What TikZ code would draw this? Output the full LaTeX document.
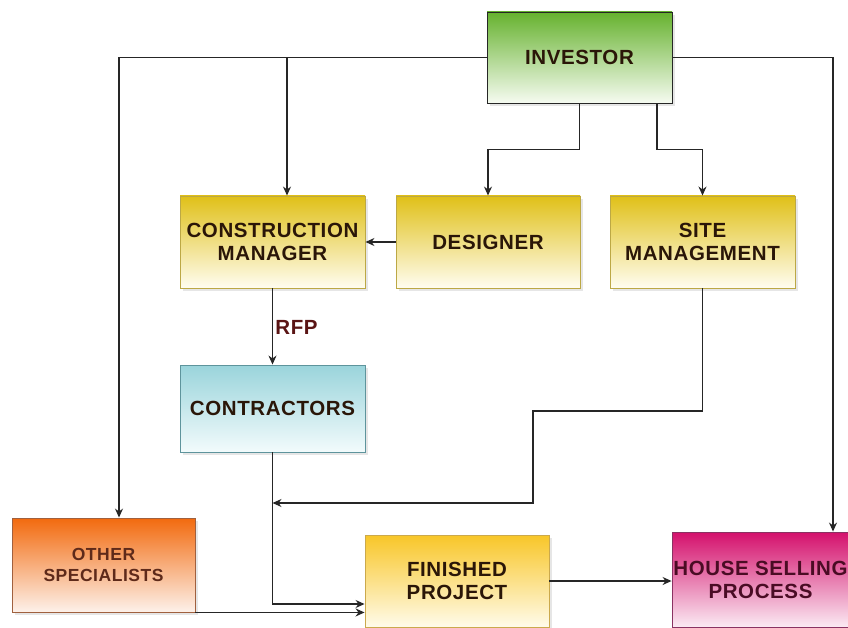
\documentclass[tikz,border=0pt]{standalone}
\usepackage{fontspec}
\setmainfont{Liberation Sans}
\newfontfamily\boxfont[LetterSpace=3]{Liberation Sans}
\usetikzlibrary{arrows.meta,shadows}

\definecolor{inktext}{HTML}{2A1608}
\definecolor{linegray}{HTML}{262626}
\definecolor{greentop}{HTML}{66B22E}
\definecolor{greenbot}{HTML}{F6FBF1}
\definecolor{yellowtop}{HTML}{E0C018}
\definecolor{yellowbot}{HTML}{FFFDF0}
\definecolor{yellowline}{HTML}{BCA845}
\definecolor{cyantop}{HTML}{9AD4DB}
\definecolor{cyanbot}{HTML}{F2FBFC}
\definecolor{cyanline}{HTML}{5E949C}
\definecolor{orangetop}{HTML}{F26A0E}
\definecolor{orangebot}{HTML}{FDF1EA}
\definecolor{orangeline}{HTML}{A0603E}
\definecolor{orangetext}{HTML}{5E2A1A}
\definecolor{goldtop}{HTML}{F8C628}
\definecolor{goldbot}{HTML}{FFFBEA}
\definecolor{goldline}{HTML}{CBA94C}
\definecolor{pinktop}{HTML}{D4106C}
\definecolor{pinkbot}{HTML}{FBEAF3}
\definecolor{pinkline}{HTML}{8A3262}
\definecolor{pinktext}{HTML}{4A0C24}
\definecolor{rfptext}{HTML}{5A1414}

\tikzset{
  box/.style={draw, line width=0.9pt, minimum width=185pt, minimum height=92pt,
    inner sep=2pt, align=center, text=inktext,
    font=\boxfont\fontsize{20.5}{23}\selectfont\bfseries,
    drop shadow={shadow xshift=3pt, shadow yshift=-3pt, opacity=0.2, fill=gray}},
  greenbox/.style={box, draw=linegray, top color=greentop, bottom color=greenbot},
  yellowbox/.style={box, draw=yellowline, top color=yellowtop, bottom color=yellowbot},
  cyanbox/.style={box, draw=cyanline, top color=cyantop, bottom color=cyanbot},
  orangebox/.style={box, draw=orangeline, top color=orangetop, bottom color=orangebot,
    font=\boxfont\fontsize{17.5}{21.5}\selectfont\bfseries, text=orangetext},
  goldbox/.style={box, draw=goldline, top color=goldtop, bottom color=goldbot},
  pinkbox/.style={box, draw=pinkline, top color=pinktop, bottom color=pinkbot, text=pinktext},
  arr/.style={draw=linegray, line width=1.2pt, -{Stealth[length=9pt,width=8pt]}},
  lbl/.style={text=rfptext, font=\boxfont\fontsize{20.5}{23}\selectfont\bfseries}
}

\begin{document}
\begin{tikzpicture}[x=1pt, y=-1pt]
  \useasboundingbox (0,0) rectangle (848,628);
  \clip (0,0) rectangle (848,628);

  % boxes
  \node[greenbox, minimum height=91pt] (inv) at (579.5,57.5) {INVESTOR};
  \node[yellowbox] (cm) at (272.5,242) {CONSTRUCTION\\MANAGER};
  \node[yellowbox, minimum width=184pt] (des) at (488,242) {DESIGNER};
  \node[yellowbox] (site) at (702.5,242) {SITE\\MANAGEMENT};
  \node[cyanbox, minimum height=87pt] (con) at (272.5,408.5) {CONTRACTORS};
  \node[orangebox, minimum width=183pt, minimum height=94pt] (oth) at (103.5,565) {OTHER\\SPECIALISTS};
  \node[goldbox, minimum width=184pt] (fin) at (457,581) {FINISHED\\PROJECT};
  \node[pinkbox, minimum height=95pt] (house) at (764.5,579.5) {\hspace*{-8pt}HOUSE SELLING\\\hspace*{-8pt}PROCESS};

  % bend points
  \coordinate (sbend) at (533,411);
  \coordinate (sjoin) at (272.5,503);

  % investor outputs
  \draw[arr] (inv.west) -| ([xshift=15.5pt]oth.north);
  \draw[arr] ([xshift=14.5pt]cm.north |- inv.west) -- ([xshift=14.5pt]cm.north);
  \draw[arr] (inv.south) -- ++(0,46) -| (des.north);
  \draw[arr] ([xshift=77.5pt]inv.south) -- ++(0,46) -| (site.north);
  \draw[arr] (inv.east) -| ([xshift=68.5pt]house.north);

  % designer and construction manager
  \draw[arr] (des.west) -- (cm.east);
  \draw[arr] (cm.south) -- node[lbl, right, xshift=-1pt, yshift=-1pt] {RFP} (con.north);

  % site management feed
  \draw[arr] (site.south) |- (sbend) |- (sjoin);

  % into the finished project
  \draw[arr] (con.south) |- ([yshift=-23pt]fin.west);
  \draw[arr] (oth.south east) -- (oth.south east -| fin.west);
  \draw[arr] (fin.east) -- (fin.east -| house.west);
\end{tikzpicture}
\end{document}
